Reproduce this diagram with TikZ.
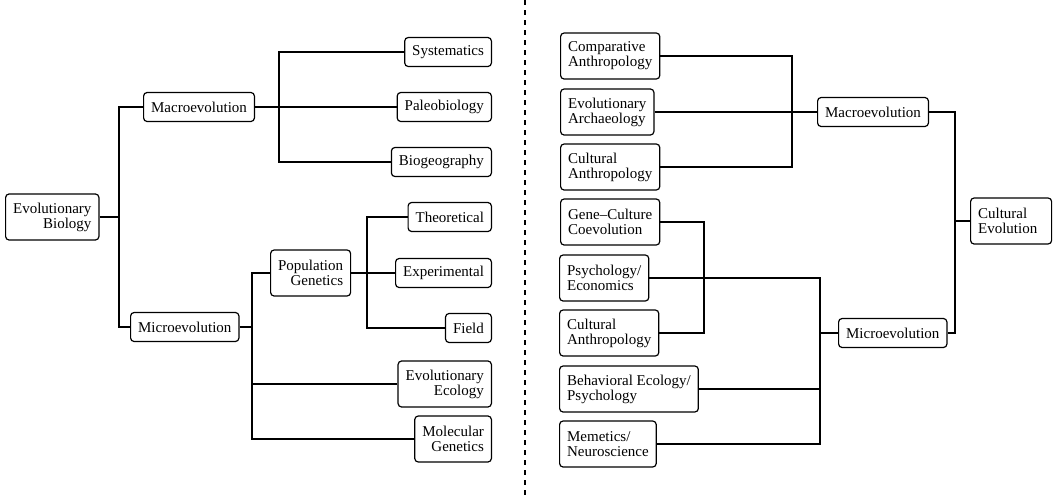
\documentclass[tikz,border=0pt]{standalone}
\usepackage{fontspec}
\setmainfont{Liberation Serif}
\begin{document}
\begin{tikzpicture}[x=1pt,y=1pt,
  box/.style={draw, line width=1.2pt, rounded corners=3.5pt, inner xsep=7.5pt, inner ysep=0pt,
    font=\fontsize{15}{15}\selectfont, minimum height=29pt},
  two/.style={box, minimum height=46pt},
  lbox/.style={box, align=right},
  ltwo/.style={two, align=right},
  rbox/.style={box, align=left},
  rtwo/.style={two, align=left},
  conn/.style={line width=1.1pt}]
\useasboundingbox (0,0) rectangle (1057,-498);
% left side
\node[ltwo, anchor=west] (EB) at (5,-217) {Evolutionary\\Biology};
\node[lbox, anchor=west] (MacroL) at (143,-107) {Macroevolution};
\node[lbox, anchor=west] (MicroL) at (130,-327) {Microevolution};
\node[lbox, anchor=east] (Sys) at (492,-52) {Systematics};
\node[lbox, anchor=east] (Paleo) at (492,-107) {Paleobiology};
\node[lbox, anchor=east] (Bio) at (492,-162) {Biogeography};
\node[lbox, anchor=east] (Theo) at (492,-217) {Theoretical};
\node[ltwo, anchor=west] (PopGen) at (270,-273) {Population\\Genetics};
\node[lbox, anchor=east] (Exp) at (492,-273) {Experimental};
\node[lbox, anchor=east] (Field) at (492,-328) {Field};
\node[ltwo, anchor=east] (EvoEco) at (492,-384) {Evolutionary\\Ecology};
\node[ltwo, anchor=east] (MolGen) at (492,-439) {Molecular\\Genetics};
\coordinate (j1) at (119,-217);
\coordinate (j2) at (279,-107);
\coordinate (j3) at (367,-273);
\coordinate (j4) at (252,-327);
\draw[conn] (EB.east) -- (j1);
\draw[conn] (MacroL.west) -| (j1) |- (MicroL.west);
\draw[conn] (Sys.west) -| (j2) |- (Bio.west);
\draw[conn] (MacroL.east) -- (Paleo.west);
\draw[conn] (Theo.west) -| (j3) |- (Field.west);
\draw[conn] (PopGen.east) -- (Exp.west);
\draw[conn] (PopGen.west) -| (j4) |- (MolGen.west);
\draw[conn] (MicroL.east) -- (j4);
\draw[conn] (EvoEco.west) -- (EvoEco.west -| j4);
% divider
\coordinate (dtop) at (525,0);
\coordinate (dbot) at (525,-498);
\draw[line width=2pt, dash pattern=on 5pt off 5pt] (dtop) -- (dbot);
% right side
\node[rtwo, anchor=west] (CompA) at (560,-56) {Comparative\\Anthropology};
\node[rtwo, anchor=west] (EvoArch) at (560,-112) {Evolutionary\\Archaeology};
\node[rtwo, anchor=west] (CultA1) at (560,-167) {Cultural\\Anthropology};
\node[rtwo, anchor=west] (GeneC) at (560,-222) {Gene–Culture\\Coevolution};
\node[rtwo, anchor=west] (PsyEco) at (559,-278) {Psychology/\\Economics};
\node[rtwo, anchor=west] (CultA2) at (559,-333) {Cultural\\Anthropology};
\node[rtwo, anchor=west] (BehEco) at (559,-389) {Behavioral Ecology/\\Psychology};
\node[rtwo, anchor=west] (Meme) at (559,-444) {Memetics/\\Neuroscience};
\node[rbox, anchor=west] (MacroR) at (817,-112) {Macroevolution};
\node[rbox, anchor=west] (MicroR) at (838,-333) {Microevolution};
\node[rtwo, anchor=west, text width=66pt] (CultEvo) at (970,-221) {Cultural\\Evolution};
\coordinate (k1) at (792,-112);
\coordinate (k2) at (704,-278);
\coordinate (k3) at (820,-333);
\coordinate (k4) at (955,-221);
\draw[conn] (CompA.east) -| (k1) |- (CultA1.east);
\draw[conn] (EvoArch.east) -- (MacroR.west);
\draw[conn] (GeneC.east) -| (k2) |- (CultA2.east);
\draw[conn] (PsyEco.east) -| (k3) |- (Meme.east);
\draw[conn] (BehEco.east) -- (BehEco.east -| k3);
\draw[conn] (k3) -- (MicroR.west);
\draw[conn] (MacroR.east) -| (k4) |- (MicroR.east);
\draw[conn] (k4) -- (CultEvo.west);
\end{tikzpicture}
\end{document}
